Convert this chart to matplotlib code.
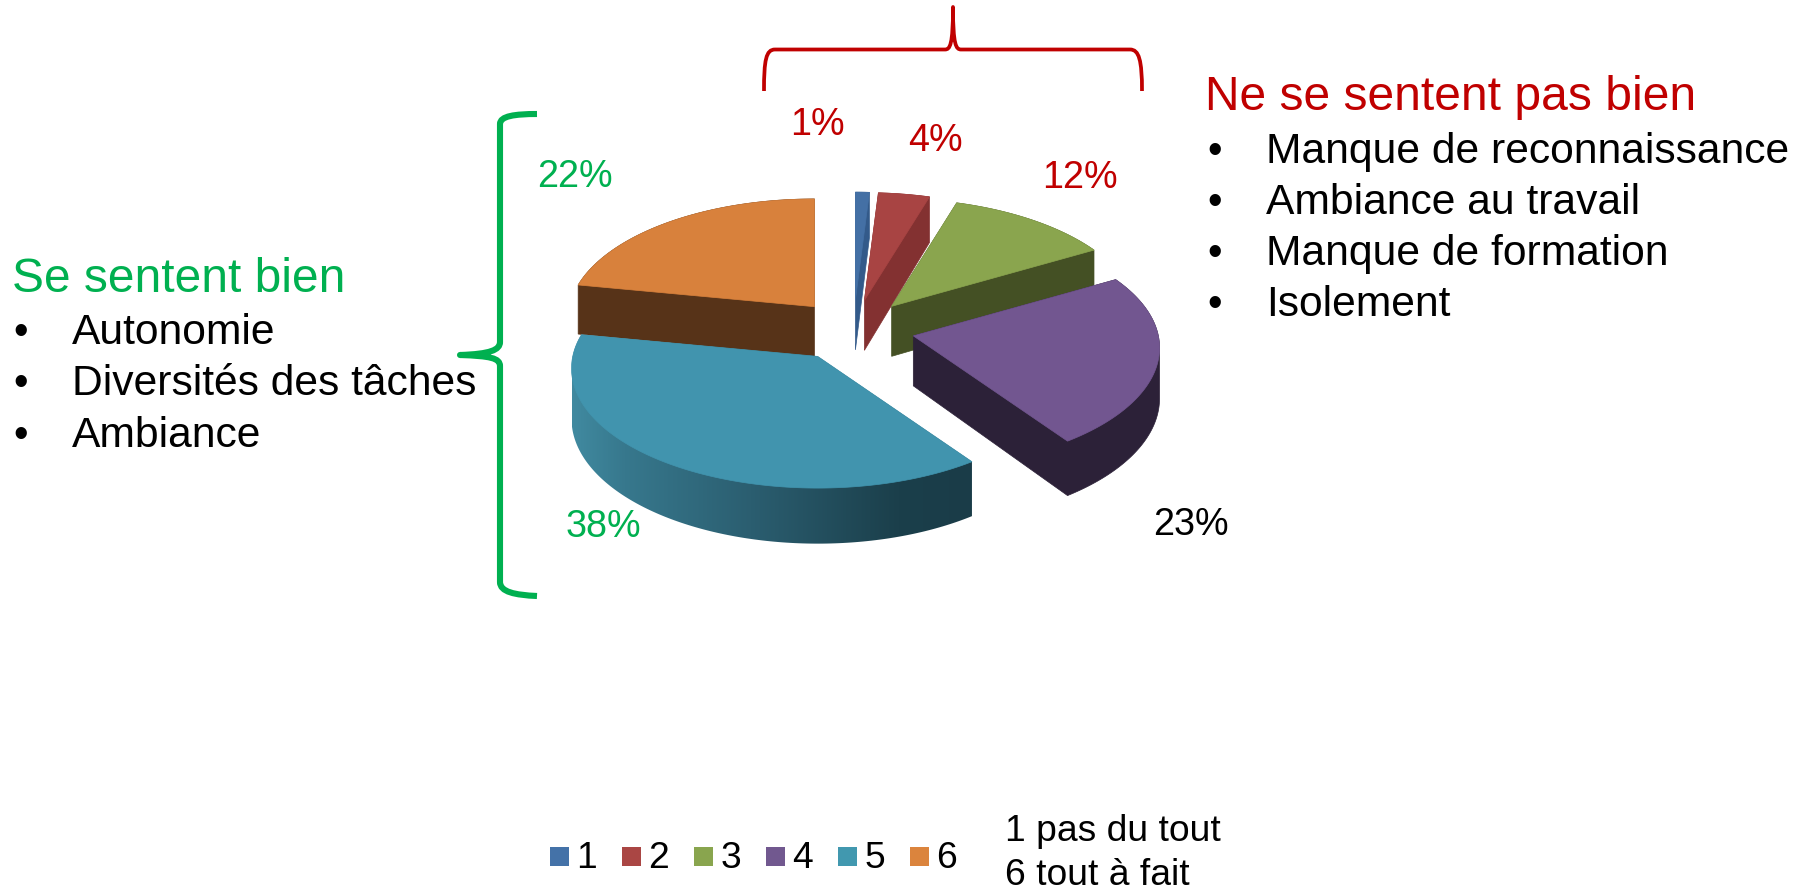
import matplotlib
matplotlib.use("Agg")
import matplotlib.pyplot as plt
import numpy as np
from matplotlib.patches import PathPatch, Polygon, Rectangle
from matplotlib.path import Path
from matplotlib.colors import to_rgb

plt.rcParams['font.family'] = ['Liberation Sans', 'DejaVu Sans']

# survey answers, in percent (labels are the rounded ones)
categories = ['1', '2', '3', '4', '5', '6']
values = [1, 3.7, 12, 23.49, 37.8, 22.01]
left_title = 'Se sentent bien'
left_items = ['Autonomie', 'Diversités des tâches', 'Ambiance']
right_title = 'Ne se sentent pas bien'
right_items = ['Manque de reconnaissance', 'Ambiance au travail', 'Manque de formation', 'Isolement']
scale_note = ['1 pas du tout', '6 tout à fait']

top_colors = ['#4470a5', '#a84443', '#8aa54e', '#725690', '#4194ae', '#d8813c']
side_colors = ['#335a8a', '#833131', '#445024', '#2c2138', None, '#573318']
legend_colors = ['#4472a8', '#aa4644', '#89a54e', '#71588f', '#4198af', '#db843d']
RED = '#c00000'
GREEN = '#00b050'
label_colors = [RED, RED, RED, 'black', GREEN, GREEN]
# where the percent labels start (x, baseline)
label_pos = [(790, 135), (908, 150.7), (1042, 188.3), (1153, 535), (566, 536.7), (537, 186.7)]

# the teal wall gets darker to the right
grad_x = [574, 624, 750, 898, 973]
grad_col = ['#40899f', '#37788d', '#2b5e70', '#1b3f4b', '#1a3c48']

# pie geometry in pixels
cx, cy = 853.5, 329.5
a, b = 245, 118.5
persp = 0.1
depth = 50
explode = [0.25, 0.25, 0.25, 0.25, 0.27, 0.25]


def project(theta):  # theta clockwise from north, degrees
    t = np.radians(theta)
    u = -np.cos(t)
    s = 1 / (1 - persp * u)
    return a * np.sin(t) * s, b * u * s, depth * s


def hull(pts):  # convex outline of the extruded slice
    pts = sorted(set(pts))
    def half(seq):
        out = []
        for p in seq:
            while len(out) > 1 and (out[-1][0] - out[-2][0]) * (p[1] - out[-2][1]) - (out[-1][1] - out[-2][1]) * (p[0] - out[-2][0]) <= 0:
                out.pop()
            out.append(p)
        return out[:-1]
    return half(pts) + half(pts[::-1])


fig = plt.figure(figsize=(18.08, 8.88), dpi=100)
ax = fig.add_axes([0, 0, 1, 1])

edges = np.cumsum([0] + values) * 3.6
order = [5, 0, 1, 2, 3, 4]  # back to front
for i in order:
    z = order.index(i) * 2 + 2
    start, end = edges[i], edges[i + 1]
    mid = np.radians((start + end) / 2)
    ox = cx + explode[i] * a * np.sin(mid)
    oy = cy - explode[i] * b * np.cos(mid)
    th = np.linspace(start, end, 160)
    px, py, pd = project(th)
    xs = np.concatenate([[ox], ox + px])
    ys = np.concatenate([[oy], oy + py])
    ds = np.concatenate([[depth], pd])
    outline = hull(list(zip(xs, ys)) + list(zip(xs, ys + ds)))
    if side_colors[i]:
        ax.add_patch(Polygon(outline, fc=side_colors[i], ec=side_colors[i], lw=0.5, zorder=z))
    else:
        gx = np.linspace(min(xs), max(xs), 300)
        rgb = np.array([to_rgb(c) for c in grad_col])
        img = np.stack([np.interp(gx, grad_x, rgb[:, k]) for k in range(3)], axis=1)[None, :, :]
        im = ax.imshow(img, extent=[min(xs), max(xs), max(ys + ds), min(ys)], aspect='auto', zorder=z)
        clip = Polygon(outline, transform=ax.transData, fc='none', ec='none')
        ax.add_patch(clip)
        im.set_clip_path(clip)
    ax.fill(xs, ys, color=top_colors[i], lw=0.5, zorder=z + 1)

ax.set_xlim(0, 1808)
ax.set_ylim(888, 0)
ax.axis('off')

for v, col, pos in zip(values, label_colors, label_pos):
    ax.text(pos[0], pos[1], '%d%%' % round(v), color=col, fontsize=27.2, va='baseline', ha='left', zorder=30)

# text blocks
ax.text(12, 291.7, left_title, color=GREEN, fontsize=34.5, va='baseline')
for n, item in enumerate(left_items):
    y = 344 + n * 51.3
    ax.text(13, y, '•', fontsize=30, va='baseline')
    ax.text(72, y, item, fontsize=30.7, va='baseline')

ax.text(1205, 110, right_title, color=RED, fontsize=34.6, va='baseline')
for n, item in enumerate(right_items):
    y = 163.3 + n * 50.8
    ax.text(1207, y, '•', fontsize=30, va='baseline')
    ax.text(1266, y, item, fontsize=30.7, va='baseline')

# braces
MOVE, LINE, C4 = Path.MOVETO, Path.LINETO, Path.CURVE4
green_v = [(537, 114), (515, 114), (500, 116), (500, 124), (500, 342),
           (500, 350), (490, 354), (460, 355), (490, 356), (500, 358), (500, 366),
           (500, 582), (500, 592), (515, 595), (537, 596)]
green_c = [MOVE, C4, C4, C4, LINE, C4, C4, C4, C4, C4, C4, LINE, C4, C4, C4]
ax.add_patch(PathPatch(Path(green_v, green_c), fc='none', ec=GREEN, lw=4.4, capstyle='butt', joinstyle='round'))
red_v = [(764, 91), (764, 60), (766, 49.5), (775, 49.5), (945, 49.5),
         (950, 49.5), (953, 45), (953, 7), (953, 45), (956, 49.5), (961, 49.5),
         (1130, 49.5), (1139, 49.5), (1142, 60), (1142, 91)]
red_c = [MOVE, C4, C4, C4, LINE, C4, C4, C4, C4, C4, C4, LINE, C4, C4, C4]
ax.add_patch(PathPatch(Path(red_v, red_c), fc='none', ec=RED, lw=2.7, capstyle='butt', joinstyle='round'))

# legend
for i, name in enumerate(categories):
    ax.add_patch(Rectangle((550 + i * 72, 847), 19, 19, fc=legend_colors[i], ec='none'))
    ax.text(576.5 + i * 72, 868.3, name, fontsize=26.8, va='baseline')
ax.text(1005, 840.7, scale_note[0], fontsize=26.8, va='baseline')
ax.text(1005, 885, scale_note[1], fontsize=26.8, va='baseline')

fig.savefig('out.png', dpi=100)
